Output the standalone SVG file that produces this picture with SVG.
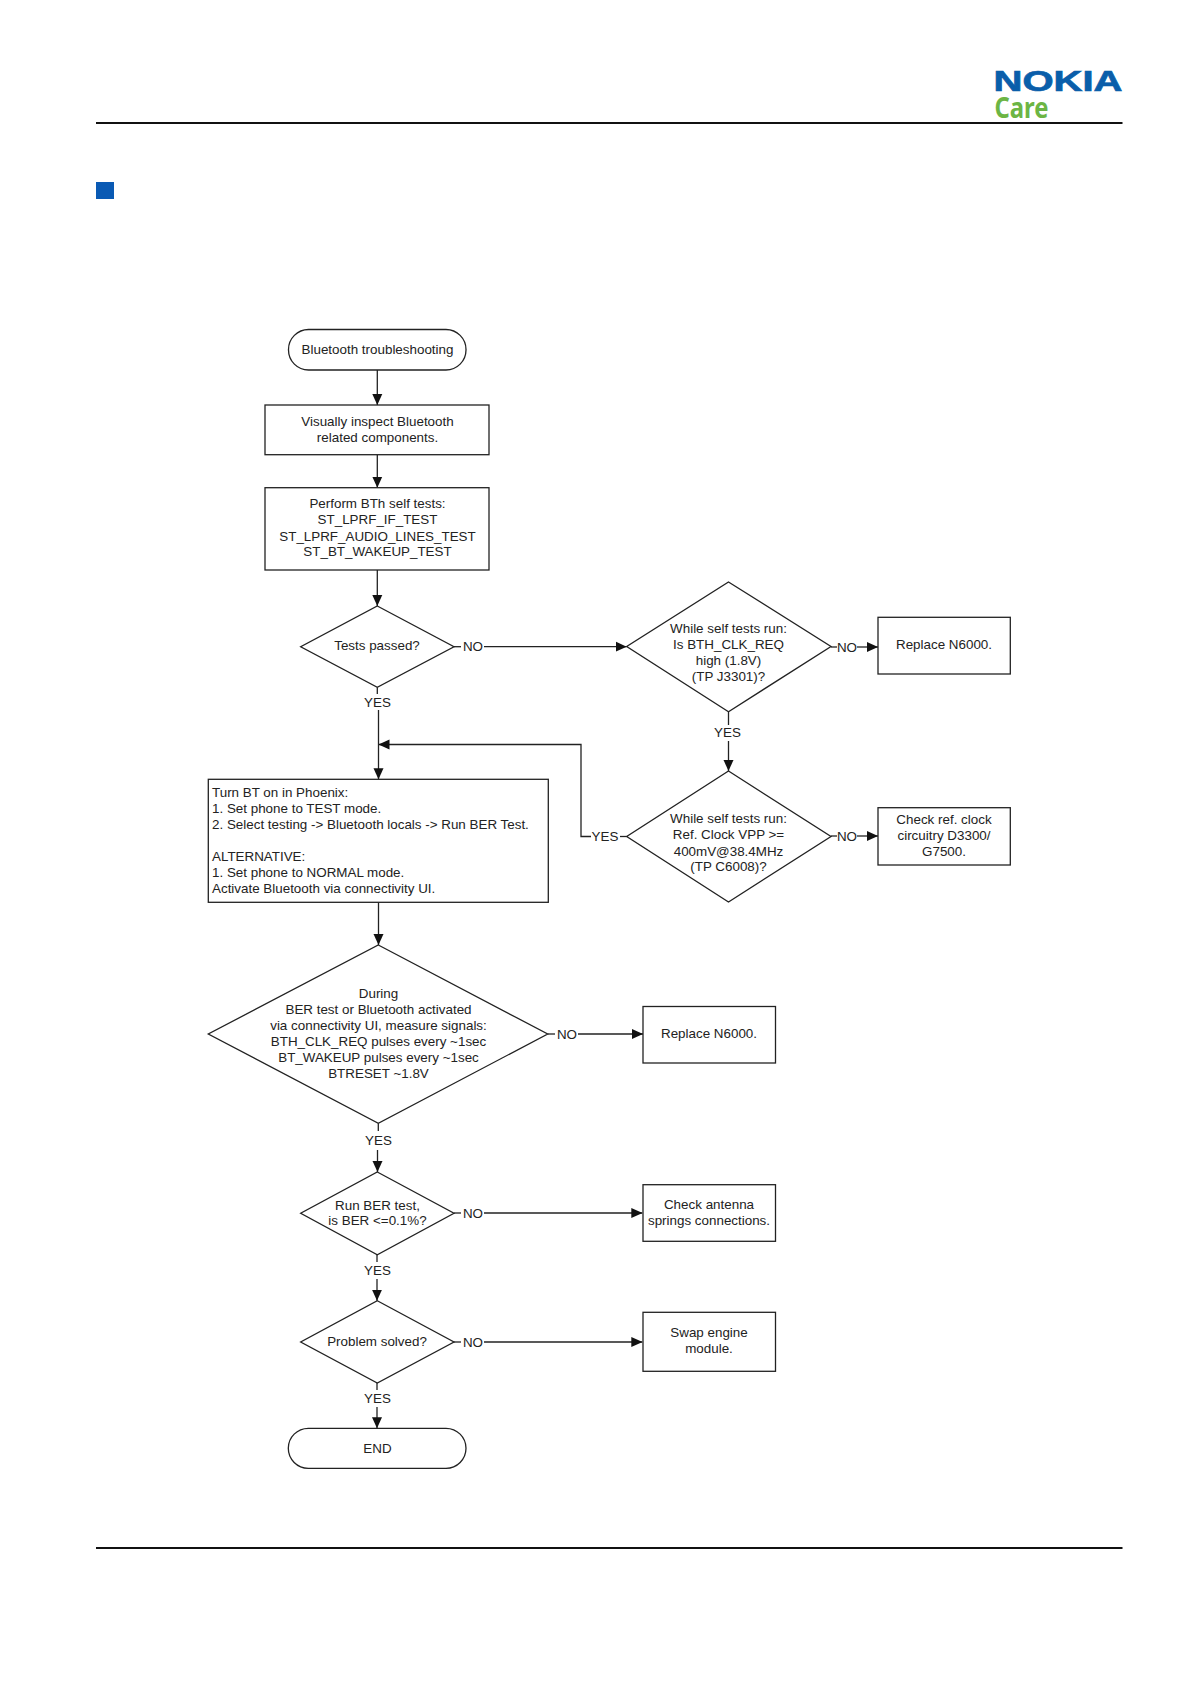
<svg xmlns="http://www.w3.org/2000/svg" width="1191" height="1684" viewBox="0 0 1191 1684">
<style>
.n{fill:#fff;stroke:#222;stroke-width:1.3}
.t{font-family:"Liberation Sans",Arial,sans-serif;font-size:13.4px;fill:#222;text-anchor:middle}
.l{text-anchor:start}
.c{fill:none;stroke:#222;stroke-width:1.3}
.a{marker-end:url(#arr)}
</style>
<defs>
<marker id="arr" markerUnits="userSpaceOnUse" markerWidth="11" markerHeight="11" refX="11" refY="5.5" orient="auto"><path d="M0 0.5L11 5.5L0 10.5Z" fill="#111"/></marker>
</defs>
<rect width="1191" height="1684" fill="#fff"/>
<g id="page">
<line x1="96" y1="123" x2="1122.5" y2="123" stroke="#111" stroke-width="2"/>
<line x1="96" y1="1548" x2="1122.5" y2="1548" stroke="#111" stroke-width="2"/>
<rect x="96" y="182" width="18" height="17" fill="#0a5ab4"/>
<text x="993.5" y="91" font-family="Liberation Sans,sans-serif" font-weight="700" font-size="29" fill="#0a5eaa" stroke="#0a5eaa" stroke-width="0.7" textLength="129" lengthAdjust="spacingAndGlyphs">NOKIA</text>
<text x="994.5" y="118" font-family="Noto Sans,sans-serif" font-weight="700" font-size="28" fill="#6cb544" textLength="54" lengthAdjust="spacingAndGlyphs">Care</text>
</g>
<g id="connectors">
<path class="c a" d="M377.3 370V405"/>
<path class="c a" d="M377.3 454.7V487.7"/>
<path class="c a" d="M377.3 570V606"/>
<path class="c" d="M377.3 687.3V694"/>
<path class="c a" d="M378.5 710V779.3"/>
<path class="c" d="M454 646.7H461"/>
<path class="c a" d="M484 646.7H626.7"/>
<path class="c" d="M831 647H837"/>
<path class="c a" d="M857 647H878"/>
<path class="c" d="M728.5 711.7V725"/>
<path class="c a" d="M728.5 741V771"/>
<path class="c" d="M831 836H837"/>
<path class="c a" d="M857 836H878"/>
<path class="c" d="M626.7 836.5H620"/>
<path class="c a" d="M591 836.5H581V744.5H378.5"/>
<path class="c a" d="M378.5 902.3V945"/>
<path class="c" d="M547.7 1034H555"/>
<path class="c a" d="M578 1034H643"/>
<path class="c" d="M378.3 1123.3V1131"/>
<path class="c a" d="M377.5 1150V1172"/>
<path class="c" d="M454 1213H461"/>
<path class="c a" d="M484 1213H642.3"/>
<path class="c" d="M377 1254.7V1262"/>
<path class="c a" d="M377 1279V1300.7"/>
<path class="c" d="M454 1342H461"/>
<path class="c a" d="M484 1342H642.3"/>
<path class="c" d="M377 1383V1390"/>
<path class="c a" d="M377 1407V1428.3"/>
</g>
<g id="labels">
<text class="t" x="473" y="651.3">NO</text>
<text class="t" x="377.5" y="706.5">YES</text>
<text class="t" x="847" y="652">NO</text>
<text class="t" x="727.5" y="737">YES</text>
<text class="t" x="847" y="841">NO</text>
<text class="t" x="605" y="841">YES</text>
<text class="t" x="567" y="1039">NO</text>
<text class="t" x="378.5" y="1145">YES</text>
<text class="t" x="473" y="1217.5">NO</text>
<text class="t" x="377.5" y="1275">YES</text>
<text class="t" x="473" y="1346.5">NO</text>
<text class="t" x="377.5" y="1403">YES</text>
</g>
<g id="start"><rect class="n" x="288.5" y="329.5" width="177.5" height="40.5" rx="20"/><text class="t" x="377.5" y="354">Bluetooth troubleshooting</text></g>
<g id="inspect"><rect class="n" x="265" y="405" width="224" height="49.7"/><text class="t" x="377.5" y="425.5">Visually inspect Bluetooth</text><text class="t" x="377.5" y="441.5">related components.</text></g>
<g id="selftests"><rect class="n" x="265" y="487.7" width="224" height="82.3"/><text class="t" x="377.5" y="508">Perform BTh self tests:</text><text class="t" x="377.5" y="524">ST_LPRF_IF_TEST</text><text class="t" x="377.5" y="540.5">ST_LPRF_AUDIO_LINES_TEST</text><text class="t" x="377.5" y="556">ST_BT_WAKEUP_TEST</text></g>
<g id="passed"><path class="n" d="M377.3 606L454 646.7L377.3 687.3L300.7 646.7Z"/><text class="t" x="377" y="650">Tests passed?</text></g>
<g id="clkreq"><path class="n" d="M728.5 582L831 646.5L728.5 711.7L626.7 646.5Z"/><text class="t" x="728.5" y="633">While self tests run:</text><text class="t" x="728.5" y="649">Is BTH_CLK_REQ</text><text class="t" x="728.5" y="665">high (1.8V)</text><text class="t" x="728.5" y="681">(TP J3301)?</text></g>
<g id="replace1"><rect class="n" x="878" y="617.3" width="132.3" height="56.7"/><text class="t" x="944" y="649">Replace N6000.</text></g>
<g id="refclock"><path class="n" d="M728.5 771L831 836.5L728.5 902L626.7 836.5Z"/><text class="t" x="728.5" y="823">While self tests run:</text><text class="t" x="728.5" y="839">Ref. Clock VPP &gt;=</text><text class="t" x="728.5" y="856">400mV@38.4MHz</text><text class="t" x="728.5" y="871">(TP C6008)?</text></g>
<g id="checkclock"><rect class="n" x="878" y="807.7" width="132.3" height="57.3"/><text class="t" x="944" y="824">Check ref. clock</text><text class="t" x="944" y="840">circuitry D3300/</text><text class="t" x="944" y="856">G7500.</text></g>
<g id="phoenix"><rect class="n" x="208.3" y="779.3" width="340" height="123"/><text class="t l" x="212" y="797">Turn BT on in Phoenix:</text><text class="t l" x="212" y="813">1. Set phone to TEST mode.</text><text class="t l" x="212" y="829">2. Select testing -&gt; Bluetooth locals -&gt; Run BER Test.</text><text class="t l" x="212" y="861">ALTERNATIVE:</text><text class="t l" x="212" y="877">1. Set phone to NORMAL mode.</text><text class="t l" x="212" y="893">Activate Bluetooth via connectivity UI.</text></g>
<g id="during"><path class="n" d="M378.3 945L547.7 1034L378.3 1123.3L208.3 1034Z"/><text class="t" x="378.5" y="998">During</text><text class="t" x="378.5" y="1014">BER test or Bluetooth activated</text><text class="t" x="378.5" y="1030">via connectivity UI, measure signals:</text><text class="t" x="378.5" y="1045.5">BTH_CLK_REQ pulses every ~1sec</text><text class="t" x="378.5" y="1061.5">BT_WAKEUP pulses every ~1sec</text><text class="t" x="378.5" y="1077.5">BTRESET ~1.8V</text></g>
<g id="replace2"><rect class="n" x="643" y="1006.5" width="132.5" height="56.5"/><text class="t" x="709" y="1038">Replace N6000.</text></g>
<g id="berrun"><path class="n" d="M377.3 1172L454 1213.3L377.3 1254.7L300.7 1213.3Z"/><text class="t" x="377.5" y="1209.5">Run BER test,</text><text class="t" x="377.5" y="1225">is BER &lt;=0.1%?</text></g>
<g id="antenna"><rect class="n" x="643" y="1184.7" width="132.5" height="56.6"/><text class="t" x="709" y="1209">Check antenna</text><text class="t" x="709" y="1225">springs connections.</text></g>
<g id="solved"><path class="n" d="M377.3 1300.7L454 1342L377.3 1383L300.7 1342Z"/><text class="t" x="377" y="1345.5">Problem solved?</text></g>
<g id="swap"><rect class="n" x="643" y="1312.3" width="132.5" height="59"/><text class="t" x="709" y="1337">Swap engine</text><text class="t" x="709" y="1353">module.</text></g>
<g id="end"><rect class="n" x="288.3" y="1428.3" width="177.7" height="40" rx="20"/><text class="t" x="377.5" y="1453">END</text></g>
</svg>
